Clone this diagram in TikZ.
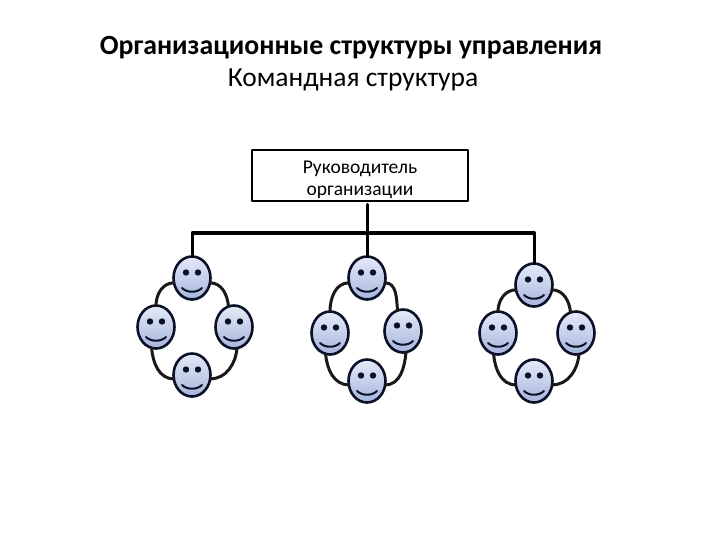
\documentclass[tikz,border=0pt]{standalone}
\usepackage{fontspec}
\setmainfont{Carlito}
\usetikzlibrary{shapes.geometric}
\definecolor{faceTop}{HTML}{E4EAF7}
\definecolor{faceBottom}{HTML}{A6B6DC}
\definecolor{faceInk}{HTML}{0B1028}
\tikzset{
	face/.style={ellipse,draw=faceInk,line width=2.6pt,top color=faceTop,bottom color=faceBottom,minimum width=37pt,minimum height=43pt,inner sep=0pt,outer sep=0pt},
	link/.style={line width=3pt,black!90},
	wire/.style={line width=3pt,black}
}
\begin{document}
\begin{tikzpicture}[line join=round,line cap=round,x=1pt,y=-1pt]
	\useasboundingbox (0,0) rectangle (720,540);
	\node[font=\fontsize{27.8}{32}\selectfont\bfseries] (title) at (351,48) {Организационные структуры управления};
	\node[font=\fontsize{27.5}{32}\selectfont] (subtitle) at (353,80) {Командная структура};
	\node[draw,line width=2.6pt,minimum width=216pt,minimum height=51pt,inner sep=0pt,align=center,font=\fontsize{19.5}{22}\selectfont] (head) at (360,175.5) {\rule{0pt}{22pt}Руководитель\\организации};
	\foreach \n/\x/\y in {at/192/278,al/156/327,ar/234/327,ab/192/375,
		bt/367/278,bl/330/333,br/403/331,bb/367/381,
		ct/534/285,cl/498/333,cr/576/333,cb/534/381}{
		\node[face] (\n) at (\x,\y) {};
		\fill[faceInk] ({\x-6},{\y-5.5}) circle (3.2pt) ({\x+6},{\y-5.5}) circle (3.2pt);
		\draw[faceInk,line width=2pt] ({\x-10},{\y+10}) .. controls ({\x-5},{\y+15}) and ({\x+5},{\y+15}) .. ({\x+10},{\y+10});
	}
	\coordinate (busL) at (192,233);
	\coordinate (busR) at (534,233);
	\draw[wire] (at.north) -- (busL) -- (busR) -- (ct.north);
	\draw[wire] ([yshift=-2pt]head.south -| bt.north) -- (bt.north);
	\foreach \g in {a,b,c}{
		\draw[link] (\g t.195) to[out=180,in=90] (\g l.north);
		\draw[link] (\g t.345) to[out=0,in=95] (\g r.105);
		\draw[link] (\g l.258) to[out=275,in=180] (\g b.192);
		\draw[link] (\g r.278) to[out=265,in=0] (\g b.348);
	}
\end{tikzpicture}
\end{document}
